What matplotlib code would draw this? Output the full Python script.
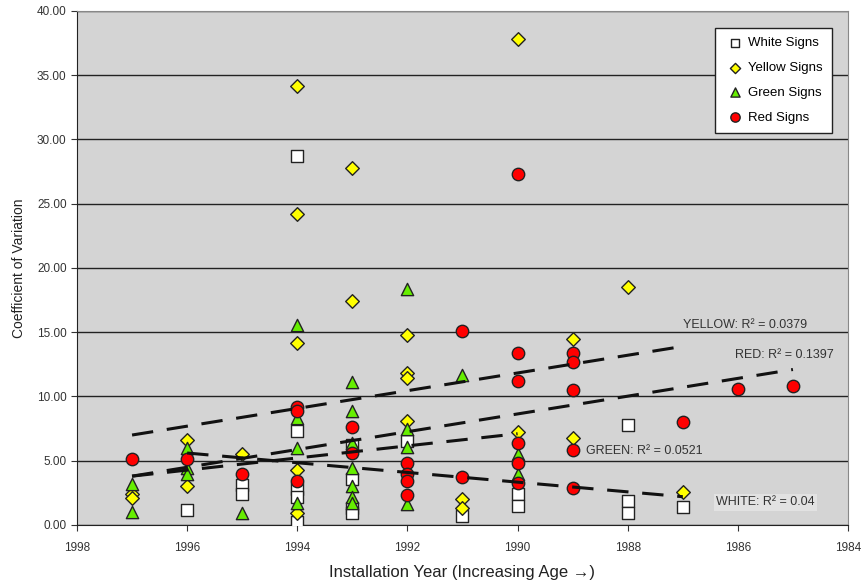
import matplotlib
matplotlib.use("Agg")
import matplotlib.pyplot as plt
import numpy as np

plt.rcParams['font.family'] = ['Liberation Sans', 'DejaVu Sans']

# data (installation year, coefficient of variation)
white_years = [1996, 1995, 1995, 1994, 1994, 1994, 1994, 1994, 1993, 1993, 1993, 1993,
               1992, 1991, 1990, 1990, 1988, 1988, 1988, 1987]
white_cv = [1.2, 3.1, 2.4, 28.7, 7.3, 2.8, 2.2, 0.2, 6.2, 3.6, 1.3, 0.9,
            6.5, 0.7, 2.4, 1.5, 7.8, 1.9, 0.9, 1.4]

yellow_years = [1997, 1997, 1996, 1996, 1995, 1994, 1994, 1994, 1994, 1994, 1993, 1993,
                1992, 1992, 1992, 1992, 1991, 1991, 1990, 1990, 1989, 1989, 1988, 1987]
yellow_cv = [2.4, 2.1, 6.6, 3.0, 5.5, 34.2, 24.2, 14.2, 4.3, 0.9, 27.8, 17.4,
             14.8, 11.8, 11.4, 8.1, 2.0, 1.3, 37.8, 7.2, 14.5, 6.8, 18.5, 2.6]

green_years = [1997, 1997, 1996, 1996, 1996, 1995, 1994, 1994, 1994, 1994,
               1993, 1993, 1993, 1993, 1993, 1993, 1993,
               1992, 1992, 1992, 1992, 1991, 1990, 1990]
green_cv = [3.2, 1.0, 6.0, 4.4, 4.0, 0.9, 15.6, 8.3, 6.0, 1.7,
            11.1, 8.9, 6.4, 4.4, 3.0, 2.2, 1.7,
            18.4, 7.5, 6.1, 1.6, 11.7, 5.5, 4.0]

red_years = [1997, 1996, 1995, 1994, 1994, 1994, 1993, 1993,
             1992, 1992, 1992, 1992, 1991, 1991,
             1990, 1990, 1990, 1990, 1990, 1990,
             1989, 1989, 1989, 1989, 1989, 1987, 1986, 1985]
red_cv = [5.1, 5.1, 4.0, 9.2, 8.9, 3.4, 7.6, 5.6,
          4.8, 4.0, 3.4, 2.3, 15.1, 3.7,
          27.3, 13.4, 11.2, 6.4, 4.8, 3.3,
          13.4, 12.7, 10.5, 5.8, 2.9, 8.0, 10.6, 10.8]

# trend line end points (year range, value at each end)
yellow_trend_x = [1997, 1987]
yellow_trend_y = [7.0, 13.9]
red_trend_x = [1997, 1985]
red_trend_y = [3.8, 12.1]
green_trend_x = [1997, 1990]
green_trend_y = [3.8, 7.1]
white_trend_x = [1996, 1987]
white_trend_y = [5.6, 2.2]

fig = plt.figure(figsize=(8.64, 5.85), dpi=100)
ax = fig.add_axes([0.0891, 0.1026, 0.8924, 0.8786])
ax.set_facecolor('#d4d4d4')

ax.scatter(white_years, white_cv, marker='s', s=70, facecolor='white', edgecolor='#222222',
           linewidth=1.0, label='White Signs', zorder=3)
ax.scatter(yellow_years, yellow_cv, marker='D', s=48, facecolor='#ffff00', edgecolor='#222222',
           linewidth=1.0, label='Yellow Signs', zorder=3)
ax.scatter(green_years, green_cv, marker='^', s=78, facecolor='#66ee00', edgecolor='#222222',
           linewidth=1.0, label='Green Signs', zorder=3)
ax.scatter(red_years, red_cv, marker='o', s=80, facecolor='#ff0000', edgecolor='#222222',
           linewidth=1.0, label='Red Signs', zorder=3)

for tx, ty in [(yellow_trend_x, yellow_trend_y), (red_trend_x, red_trend_y),
               (green_trend_x, green_trend_y), (white_trend_x, white_trend_y)]:
    ax.plot(tx, ty, color='#111111', linestyle=(0, (7, 4.5)), linewidth=2.2, zorder=4)

txt = dict(fontsize=9, color='#333333', va='center', zorder=5)
ax.text(1987.0, 15.55, 'YELLOW: R² = 0.0379', **txt)
ax.text(1986.05, 13.2, 'RED: R² = 0.1397', **txt)
ax.text(1988.75, 5.75, 'GREEN: R² = 0.0521', **txt)
ax.text(1986.4, 1.75, 'WHITE: R² = 0.04',
        bbox=dict(facecolor='#e2e2e2', edgecolor='none', pad=1.5), **txt)

ax.set_xlim(1998, 1984)
ax.set_ylim(0, 40)
ax.set_xticks(np.arange(1998, 1983, -2))
ax.set_yticks(np.arange(0, 40.1, 5))
ax.yaxis.set_major_formatter(matplotlib.ticker.FormatStrFormatter('%.2f'))
ax.grid(axis='y', color='#222222', linewidth=1.0)
ax.set_axisbelow(True)
ax.tick_params(axis='both', labelsize=8.5, colors='#333333', length=4, direction='out')
ax.tick_params(axis='x', pad=8)
for side in ['top', 'right']:
    ax.spines[side].set_color('#888888')
ax.spines['left'].set_color('#222222')
ax.spines['bottom'].set_color('#222222')

ax.set_ylabel('Coefficient of Variation', fontsize=10, color='#222222', labelpad=8)
ax.set_xlabel('Installation Year (Increasing Age \u2192)', fontsize=12, color='#222222', labelpad=8)

leg = ax.legend(loc='upper right', bbox_to_anchor=(0.988, 0.98), fontsize=9.5, frameon=True,
                fancybox=False, edgecolor='#222222', framealpha=1, handletextpad=0.2,
                borderpad=0.7, labelspacing=0.95, handlelength=1.6, markerscale=0.75)
leg.get_frame().set_linewidth(1.0)

fig.savefig('out.png', dpi=100)
